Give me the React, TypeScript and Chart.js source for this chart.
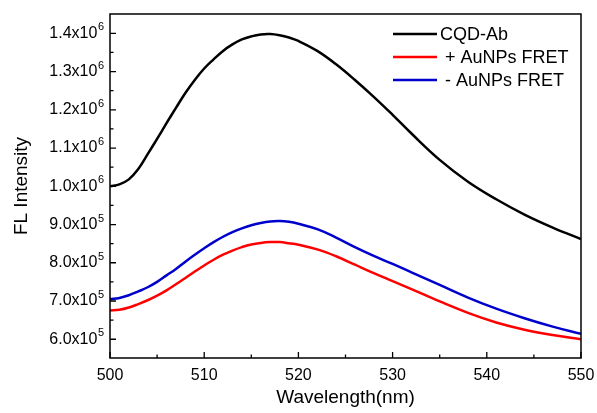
import React, { useEffect, useRef } from "react";
import { Chart, registerables } from "chart.js";

Chart.register(...registerables);

// Wavelength (nm)
const wavelengths = [500, 501, 502, 503, 504, 505, 506, 507, 508, 509, 510, 511, 512, 513, 514, 515, 516, 517, 518, 519, 520, 522, 524, 526, 528, 530, 532, 535, 538, 541, 544, 547, 550];
// FL intensity series
const cqdAb = [1000000, 1005000, 1018000, 1045000, 1084000, 1124000, 1165000, 1205000, 1244000, 1278000, 1308000, 1332000, 1354000, 1371000, 1384000, 1392000, 1397000, 1398000, 1395000, 1389000, 1380000, 1354000, 1319000, 1278000, 1234000, 1187000, 1138000, 1069000, 1012000, 966000, 926000, 892000, 862000];
const plusAuNPs = [675000, 677000, 683000, 692000, 702000, 714000, 728000, 744000, 760000, 777000, 793000, 808000, 821000, 832000, 841000, 848000, 852000, 854000, 854000, 851000, 847000, 835000, 817000, 795000, 773000, 752000, 731000, 699000, 669000, 644000, 625000, 611000, 600000];
const minusAuNPs = [705000, 708000, 715000, 725000, 736000, 750000, 767000, 784000, 803000, 821000, 838000, 854000, 868000, 880000, 890000, 898000, 904000, 908000, 909000, 907000, 902000, 888000, 866000, 841000, 818000, 797000, 775000, 742000, 709000, 680000, 655000, 633000, 614000];

const seriesLabels = ["CQD-Ab", " + AuNPs FRET", " - AuNPs FRET"];
const seriesColors = ["#000000", "#ff0000", "#0000cc"];

const xMajorTicks = [500, 510, 520, 530, 540, 550];
const xMinorTicks = [505, 515, 525, 535, 545];
const yMajorTicks = [600000, 700000, 800000, 900000, 1000000, 1100000, 1200000, 1300000, 1400000];
const yMinorTicks = [650000, 750000, 850000, 950000, 1050000, 1150000, 1250000, 1350000];

const X_MIN = 500;
const X_MAX = 550;
const Y_MIN = 551000;
const Y_MAX = 1450500;

const FONT = "'Liberation Sans', Arial, Helvetica, sans-serif";

function sciParts(v: number): [string, string] {
  const exp = Math.floor(Math.log10(v) + 1e-9);
  const mant = v / Math.pow(10, exp);
  return [mant.toFixed(1) + "x10", String(exp)];
}

const framePlugin = {
  id: "frameTicks",
  afterDatasetsDraw(chart: any) {
    const { ctx, chartArea } = chart;
    const xs = chart.scales.x;
    const ys = chart.scales.y;
    ctx.save();
    ctx.strokeStyle = "#000";
    ctx.lineWidth = 1.5;
    ctx.strokeRect(chartArea.left, chartArea.top, chartArea.right - chartArea.left, chartArea.bottom - chartArea.top);
    ctx.lineWidth = 1.3;
    ctx.beginPath();
    const tick = (vals: number[], len: number) => {
      vals.forEach((v) => {
        const px = xs.getPixelForValue(v);
        ctx.moveTo(px, chartArea.bottom);
        ctx.lineTo(px, chartArea.bottom - len);
      });
    };
    const ytick = (vals: number[], len: number) => {
      vals.forEach((v) => {
        const py = ys.getPixelForValue(v);
        ctx.moveTo(chartArea.left, py);
        ctx.lineTo(chartArea.left + len, py);
      });
    };
    tick(xMajorTicks, 6);
    tick(xMinorTicks, 3.5);
    ytick(yMajorTicks, 6);
    ytick(yMinorTicks, 3.5);
    ctx.stroke();

    // y tick labels with superscript exponents
    ctx.fillStyle = "#000";
    ctx.textAlign = "left";
    ctx.textBaseline = "middle";
    const right = chartArea.left - 6;
    ys.ticks.forEach((t: any) => {
      const [m, e] = sciParts(t.value);
      const py = ys.getPixelForValue(t.value);
      ctx.font = `11px ${FONT}`;
      const we = ctx.measureText(e).width;
      ctx.font = `16px ${FONT}`;
      const wm = ctx.measureText(m).width;
      ctx.fillText(m, right - we - wm - 0.5, py);
      ctx.font = `11px ${FONT}`;
      ctx.fillText(e, right - we, py - 6);
    });
    ctx.restore();
  },
};

const legendPlugin = {
  id: "innerLegend",
  afterDraw(chart: any) {
    const { ctx, chartArea } = chart;
    ctx.save();
    ctx.font = `18px ${FONT}`;
    ctx.textBaseline = "middle";
    ctx.textAlign = "left";
    const x0 = chartArea.right - 188;
    const lineLen = 44;
    chart.data.datasets.forEach((ds: any, i: number) => {
      const y = chartArea.top + 20 + i * 23;
      ctx.strokeStyle = ds.borderColor;
      ctx.lineWidth = 2.5;
      ctx.beginPath();
      ctx.moveTo(x0, y);
      ctx.lineTo(x0 + lineLen, y);
      ctx.stroke();
      ctx.fillStyle = "#000";
      ctx.fillText(ds.label, x0 + lineLen + 3, y + 1);
    });
    ctx.restore();
  },
};

export default function App() {
  const ref = useRef<HTMLCanvasElement | null>(null);

  useEffect(() => {
    if (!ref.current) return;
    const series = [cqdAb, plusAuNPs, minusAuNPs];
    const chart = new Chart(ref.current, {
      type: "line",
      data: {
        datasets: series.map((vals, i) => ({
          label: seriesLabels[i],
          data: wavelengths.map((w, j) => ({ x: w, y: vals[j] })),
          borderColor: seriesColors[i],
          backgroundColor: seriesColors[i],
          borderWidth: 2.5,
          pointRadius: 0,
          tension: 0.4,
          fill: false,
        })),
      },
      options: {
        responsive: false,
        animation: false,
        devicePixelRatio: 1,
        layout: { padding: { top: 14, right: 16, left: 0, bottom: 0 } },
        plugins: {
          legend: { display: false },
          tooltip: { enabled: false },
        },
        scales: {
          x: {
            type: "linear",
            min: X_MIN,
            max: X_MAX,
            afterBuildTicks: (scale: any) => {
              scale.ticks = xMajorTicks.map((v) => ({ value: v }));
            },
            afterFit: (scale: any) => {
              scale.height = 55;
              scale.paddingLeft = 0;
              scale.paddingRight = 0;
            },
            grid: { display: false, drawTicks: false },
            border: { display: false },
            ticks: {
              color: "#000",
              padding: 8,
              maxRotation: 0,
              font: { family: FONT, size: 16 },
              callback: (v: any) => String(v),
            },
            title: {
              display: true,
              text: "Wavelength(nm)",
              color: "#000",
              font: { family: FONT, size: 19 },
              padding: { top: 0, bottom: 4 },
            },
          },
          y: {
            type: "linear",
            min: Y_MIN,
            max: Y_MAX,
            afterBuildTicks: (scale: any) => {
              scale.ticks = yMajorTicks.map((v) => ({ value: v }));
            },
            afterFit: (scale: any) => {
              scale.width = 110;
              scale.paddingTop = 0;
              scale.paddingBottom = 0;
            },
            grid: { display: false, drawTicks: false },
            border: { display: false },
            ticks: { display: false },
            title: {
              display: true,
              text: "FL Intensity",
              color: "#000",
              font: { family: FONT, size: 19 },
              padding: { top: 10, bottom: 0 },
            },
          },
        },
      },
      plugins: [framePlugin, legendPlugin],
    });
    return () => chart.destroy();
  }, []);

  return (
    <div style={{ position: "absolute", left: 0, top: 0, width: 597, height: 413, background: "#fff" }}>
      <canvas ref={ref} width={597} height={413} />
    </div>
  );
}
